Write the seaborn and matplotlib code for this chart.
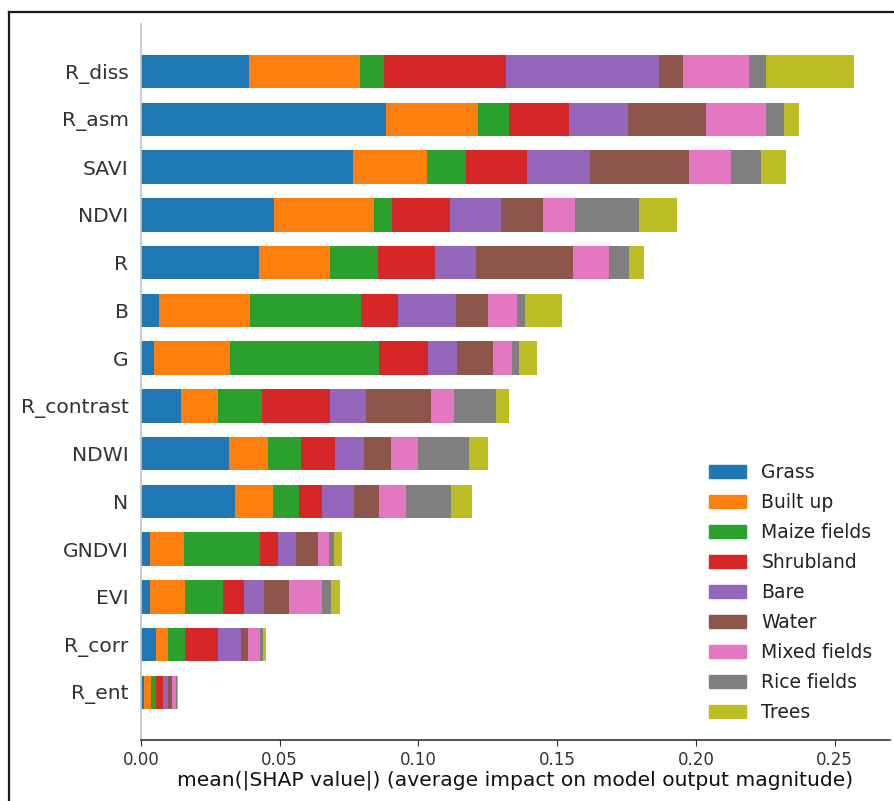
import numpy as np
import matplotlib
matplotlib.use("Agg")
import matplotlib.pyplot as plt
from matplotlib.lines import Line2D
import seaborn as sns

# Features, top to bottom
features = ["R_diss", "R_asm", "SAVI", "NDVI", "R", "B", "G", "R_contrast",
            "NDWI", "N", "GNDVI", "EVI", "R_corr", "R_ent"]

classes = ["Grass", "Built up", "Maize fields", "Shrubland", "Bare", "Water",
           "Mixed fields", "Rice fields", "Trees"]

# mean(|SHAP|) per class for each feature
grass        = [0.0389, 0.0882, 0.0763, 0.0478, 0.0425, 0.0065, 0.0048, 0.0145, 0.0316, 0.0340, 0.0031, 0.0031, 0.0055, 0.0010]
built_up     = [0.0399, 0.0333, 0.0268, 0.0363, 0.0257, 0.0328, 0.0272, 0.0133, 0.0142, 0.0135, 0.0123, 0.0126, 0.0041, 0.0025]
maize_fields = [0.0089, 0.0111, 0.0140, 0.0065, 0.0171, 0.0399, 0.0537, 0.0159, 0.0119, 0.0095, 0.0275, 0.0138, 0.0061, 0.0020]
shrubland    = [0.0439, 0.0218, 0.0219, 0.0207, 0.0208, 0.0134, 0.0179, 0.0245, 0.0121, 0.0084, 0.0066, 0.0078, 0.0121, 0.0024]
bare         = [0.0550, 0.0213, 0.0229, 0.0183, 0.0147, 0.0210, 0.0102, 0.0130, 0.0106, 0.0113, 0.0065, 0.0072, 0.0082, 0.0020]
water        = [0.0089, 0.0280, 0.0357, 0.0154, 0.0349, 0.0114, 0.0132, 0.0232, 0.0097, 0.0090, 0.0078, 0.0090, 0.0024, 0.0014]
mixed_fields = [0.0237, 0.0215, 0.0151, 0.0114, 0.0131, 0.0106, 0.0067, 0.0085, 0.0098, 0.0098, 0.0040, 0.0118, 0.0045, 0.0013]
rice_fields  = [0.0060, 0.0065, 0.0109, 0.0232, 0.0072, 0.0029, 0.0024, 0.0150, 0.0183, 0.0162, 0.0017, 0.0032, 0.0009, 0.0004]
trees        = [0.0317, 0.0056, 0.0088, 0.0135, 0.0053, 0.0133, 0.0065, 0.0049, 0.0068, 0.0077, 0.0031, 0.0032, 0.0014, 0.0005]

series = [grass, built_up, maize_fields, shrubland, bare, water,
          mixed_fields, rice_fields, trees]

xticks = [0.00, 0.05, 0.10, 0.15, 0.20, 0.25]
xlabel = "mean(|SHAP value|) (average impact on model output magnitude)"

axis_color = "#333333"
palette = sns.color_palette("tab10", len(classes))

plt.rcParams["font.family"] = ["DejaVu Sans"]

W, H = 894, 801
fig = plt.figure(figsize=(W / 100, H / 100), dpi=100)
ax = fig.add_axes([141 / W, 1 - 740 / H, (890 - 141) / W, (740 - 24) / H])

# Stacked bars: draw cumulative totals from the widest layer down
cum = np.cumsum(np.array(series), axis=0)
for i in range(len(classes) - 1, -1, -1):
    sns.barplot(x=cum[i], y=features, order=features, orient="h",
                color=palette[i], saturation=1, width=0.7,
                linewidth=0, edgecolor="none", ax=ax, label=classes[i])
handles = [plt.Rectangle((0, 0), 1, 1, color=palette[i]) for i in range(len(classes))]

ax.set_xlim(0, 0.27)
ax.set_ylim(len(features), -1)
ax.set_xticks(xticks)
ax.set_xticklabels([f"{t:.2f}" for t in xticks])
ax.set_ylabel("")
ax.set_xlabel(xlabel, fontsize=14.6, color="#111111", labelpad=1)

for side in ["top", "right"]:
    ax.spines[side].set_visible(False)
ax.spines["left"].set_color("#c4c4c4")
ax.spines["left"].set_linewidth(1.2)
ax.spines["bottom"].set_color(axis_color)
ax.spines["bottom"].set_linewidth(1.2)
ax.tick_params(axis="x", labelsize=12, color=axis_color, labelcolor=axis_color,
               length=4, pad=4)
ax.tick_params(axis="y", labelsize=14.6, color=axis_color, labelcolor=axis_color,
               length=0, pad=9)

leg = ax.legend(handles, classes, frameon=False, fontsize=13.5,
                loc="upper left", bbox_to_anchor=(692 / W, 1 - 446 / H),
                bbox_transform=fig.transFigure, handlelength=2.0,
                labelspacing=0.59)
for t in leg.get_texts():
    t.set_color("#222222")

# Outer frame line on the left and top edges
fig.add_artist(Line2D([8.5 / W, 8.5 / W], [0, 1 - 11.5 / H],
                      transform=fig.transFigure, color="#1a1a1a", linewidth=1.6))
fig.add_artist(Line2D([8.5 / W, 1], [1 - 11.5 / H, 1 - 11.5 / H],
                      transform=fig.transFigure, color="#1a1a1a", linewidth=1.6))

fig.savefig("out.png", dpi=100)
